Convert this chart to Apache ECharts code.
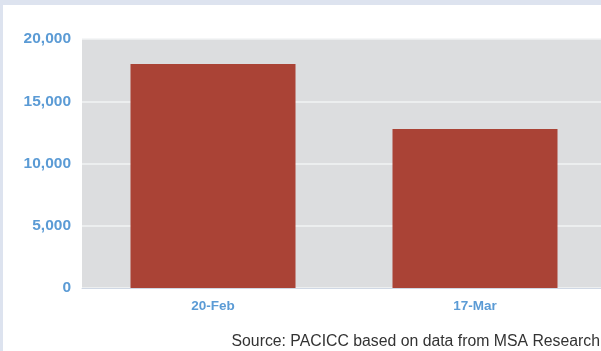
<!DOCTYPE html>
<html>
<head>
<meta charset="utf-8">
<script src="https://cdn.jsdelivr.net/npm/echarts@6/dist/echarts.min.js"></script>
<style>
  html, body { margin: 0; padding: 0; background: #fff; }
  #frame { width: 601px; height: 351px; position: relative; overflow: hidden; }
  #topband { position: absolute; left: 0; top: 0; width: 601px; height: 5px; background: #dde3ef; }
  #leftband { position: absolute; left: 0; top: 0; width: 3px; height: 351px; background: #dde3ef; }
  /* the plot runs past the right edge, so the canvas is a little wider than the frame */
  #chart { position: absolute; left: 0; top: 0; width: 606px; height: 351px; }
</style>
</head>
<body>
<div id="frame">
  <div id="chart"></div>
  <div id="topband"></div>
  <div id="leftband"></div>
</div>
<script>
// Dates of the two readings and the values at each
const categories = ['20-Feb', '17-Mar'];
const values = [18000, 12770];
const yTicks = [0, 5000, 10000, 15000, 20000];
const sourceNote = 'Source: PACICC based on data from MSA Research';

const blue = '#5b9bd5';
const chart = echarts.init(document.getElementById('chart'), null, { renderer: 'canvas' });

chart.setOption({
  animation: false,
  grid: {
    left: 82, top: 39, bottom: 63, right: 0,
    show: true, backgroundColor: '#dcdddf', borderWidth: 0
  },
  xAxis: {
    type: 'category',
    data: categories,
    axisLine: { show: true, lineStyle: { color: '#cfd7e4', width: 1 } },
    axisTick: { show: false },
    axisLabel: {
      color: blue, fontWeight: 'bold', fontSize: 13.5,
      fontFamily: 'Liberation Sans, Arial, sans-serif', margin: 11
    }
  },
  yAxis: {
    type: 'value',
    min: yTicks[0],
    max: yTicks[yTicks.length - 1],
    interval: yTicks[1] - yTicks[0],
    axisLine: { show: false },
    axisTick: { show: false },
    splitLine: { show: true, lineStyle: { color: '#f2f3f5', width: 1.5 } },
    axisLabel: {
      color: blue, fontWeight: 'bold', fontSize: 15.5,
      fontFamily: 'Liberation Sans, Arial, sans-serif', margin: 11,
      formatter: v => v.toLocaleString('en-US')
    }
  },
  series: [{
    type: 'bar',
    data: values,
    barWidth: 165,
    itemStyle: { color: '#aa4336' }
  }],
  graphic: [{
    type: 'text',
    right: 6,
    top: 334,
    style: {
      text: sourceNote,
      fill: '#333333',
      font: '15.8px "Liberation Sans", Arial, sans-serif'
    }
  }]
});
</script>
</body>
</html>
